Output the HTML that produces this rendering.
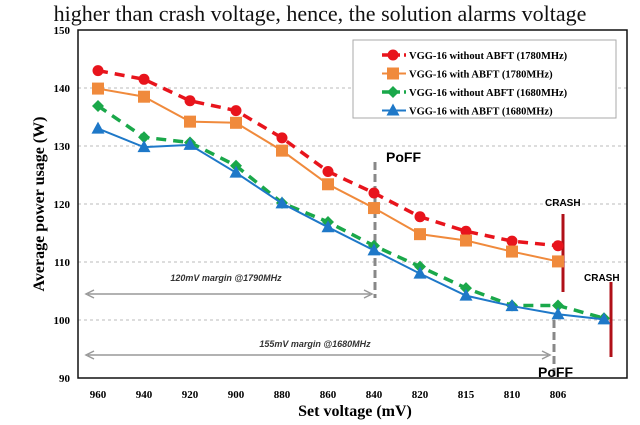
<!DOCTYPE html>
<html><head><meta charset="utf-8"><style>
body{margin:0;background:#fff;width:640px;height:425px;overflow:hidden}
svg{display:block}
</style></head><body>
<svg width="640" height="425" xmlns="http://www.w3.org/2000/svg">
<text x="320" y="21" text-anchor="middle" font-family="Liberation Serif, serif" font-size="22" fill="#111">higher than crash voltage, hence, the solution alarms voltage</text>
<g id="grid"></g>
<rect x="78" y="30" width="549" height="348" fill="none" stroke="#111" stroke-width="1.5"/>
<g id="yt"></g>
<g id="xt"></g>
<text transform="translate(44,204) rotate(-90)" text-anchor="middle" font-family="Liberation Serif, serif" font-weight="bold" font-size="16">Average power usage (W)</text>
<text x="355" y="416" text-anchor="middle" font-family="Liberation Serif, serif" font-weight="bold" font-size="16">Set voltage (mV)</text>
<g id="ann">
<line x1="375" y1="162" x2="375" y2="298" stroke="#888" stroke-width="3" stroke-dasharray="8,4"/>
<text x="386" y="162" font-family="Liberation Sans, sans-serif" font-weight="bold" font-size="14">PoFF</text>
<line x1="554" y1="320" x2="554" y2="380" stroke="#888" stroke-width="3" stroke-dasharray="8,4"/>
<text x="538" y="377" font-family="Liberation Sans, sans-serif" font-weight="bold" font-size="14">PoFF</text>
<line x1="563" y1="214" x2="563" y2="292" stroke="#b01018" stroke-width="3"/>
<text x="545" y="206" font-family="Liberation Sans, sans-serif" font-weight="bold" font-size="10">CRASH</text>
<line x1="611" y1="282" x2="611" y2="357" stroke="#b01018" stroke-width="3"/>
<text x="584" y="281" font-family="Liberation Sans, sans-serif" font-weight="bold" font-size="10">CRASH</text>
<line x1="88" y1="294" x2="370" y2="294" stroke="#999" stroke-width="1.5"/>
<path d="M94,290 L86,294 L94,298 M364,290 L372,294 L364,298" fill="none" stroke="#999" stroke-width="1.5"/>
<text x="226" y="281" text-anchor="middle" font-family="Liberation Sans, sans-serif" font-style="italic" font-weight="bold" font-size="9" fill="#333">120mV margin @1790MHz</text>
<line x1="88" y1="355" x2="548" y2="355" stroke="#999" stroke-width="1.5"/>
<path d="M94,351 L86,355 L94,359 M542,351 L550,355 L542,359" fill="none" stroke="#999" stroke-width="1.5"/>
<text x="315" y="347" text-anchor="middle" font-family="Liberation Sans, sans-serif" font-style="italic" font-weight="bold" font-size="9" fill="#333">155mV margin @1680MHz</text>
</g>
<g id="series"></g>
<g>
<rect x="353" y="40" width="263" height="78" fill="#fff" stroke="#aaa"/>
<g id="leg"></g>
</g>
</svg>
<script>
const categories=["960","940","920","900","880","860","840","820","815","810","806",""];
const yTicks=[90,100,110,120,130,140,150];
const redVals=[143,141.5,137.8,136.1,131.4,125.6,121.9,117.8,115.3,113.6,112.8];
const orangeVals=[139.9,138.5,134.2,134,129.2,123.4,119.3,114.8,113.7,111.8,110.1];
const greenVals=[136.9,131.5,130.6,126.6,120.2,116.9,112.8,109.2,105.5,102.5,102.5,100.3];
const blueVals=[133,129.8,130.2,125.4,120.1,116,112,108,104.2,102.4,101,100.1];
const seriesNames=["VGG-16 without ABFT (1780MHz)","VGG-16 with ABFT (1780MHz)","VGG-16 without ABFT (1680MHz)","VGG-16 with ABFT (1680MHz)"];
const NS="http://www.w3.org/2000/svg";
const xs=i=>98+46*i;
const ys=v=>30+(150-v)*5.8;
function mk(tag,attrs,parent){const e=document.createElementNS(NS,tag);for(const k in attrs)e.setAttribute(k,attrs[k]);parent.appendChild(e);return e;}
const grid=document.getElementById('grid'),yt=document.getElementById('yt'),xt=document.getElementById('xt');
yTicks.forEach(v=>{
  if(v>90&&v<150){const l=mk('line',{x1:78,x2:627,y1:ys(v),y2:ys(v),stroke:'#bbb','stroke-dasharray':'3,3'},grid);
  
  }
  const t=mk('text',{x:70,y:ys(v)+4,'text-anchor':'end','font-family':'Liberation Serif, serif','font-weight':'bold','font-size':'11'},yt);
  t.textContent=v;
  
  
});
categories.forEach((c,i)=>{
  const t=mk('text',{x:xs(i),y:398,'text-anchor':'middle','font-family':'Liberation Serif, serif','font-weight':'bold','font-size':'11'},xt);
  t.textContent=c;
  
  
});
const defs=[
 {vals:redVals,color:'#e8141c',dash:'10,7',m:'circle'},
 {vals:orangeVals,color:'#f08a3c',dash:'',m:'square'},
 {vals:greenVals,color:'#1aa84a',dash:'10,7',m:'diamond'},
 {vals:blueVals,color:'#1e78c8',dash:'',m:'triangle'}];
function marker(type,x,y,color,parent){
  if(type==='circle')return mk('circle',{cx:x,cy:y,r:5.5,fill:color},parent);
  if(type==='square')return mk('rect',{x:x-6,y:y-6,width:12,height:12,fill:color},parent);
  if(type==='diamond')return mk('path',{d:`M${x},${y-6}L${x+6},${y}L${x},${y+6}L${x-6},${y}Z`,fill:color},parent);
  return mk('path',{d:`M${x},${y-7}L${x+6.5},${y+5}L${x-6.5},${y+5}Z`,fill:color},parent);
}
const sg=document.getElementById('series');
defs.forEach((d,si)=>{
  const g=mk('g',{},sg);
  
  
  const pts=d.vals.map((v,i)=>xs(i)+','+ys(v)).join(' ');
  const pl=mk('polyline',{points:pts,fill:'none',stroke:d.color,'stroke-width':d.dash?3.5:2,'stroke-dasharray':d.dash},g);
  
  
  d.vals.forEach((v,i)=>{const m=marker(d.m,xs(i),ys(v),d.color,g);
    
    });
});
const leg=document.getElementById('leg');
defs.forEach((d,i)=>{
  const y=55+i*18.5;
  const l=mk('line',{x1:382,x2:406,y1:y,y2:y,stroke:d.color,'stroke-width':d.dash?3.5:2,'stroke-dasharray':d.dash?'7,4':''},leg);
  
  
  marker(d.m,393,y,d.color,leg);
  const t=mk('text',{x:409,y:y+4,'font-family':'Liberation Serif, serif','font-weight':'bold','font-size':'10.5'},leg);
  t.textContent=seriesNames[i];
  
  
});
</script>
</body></html>
